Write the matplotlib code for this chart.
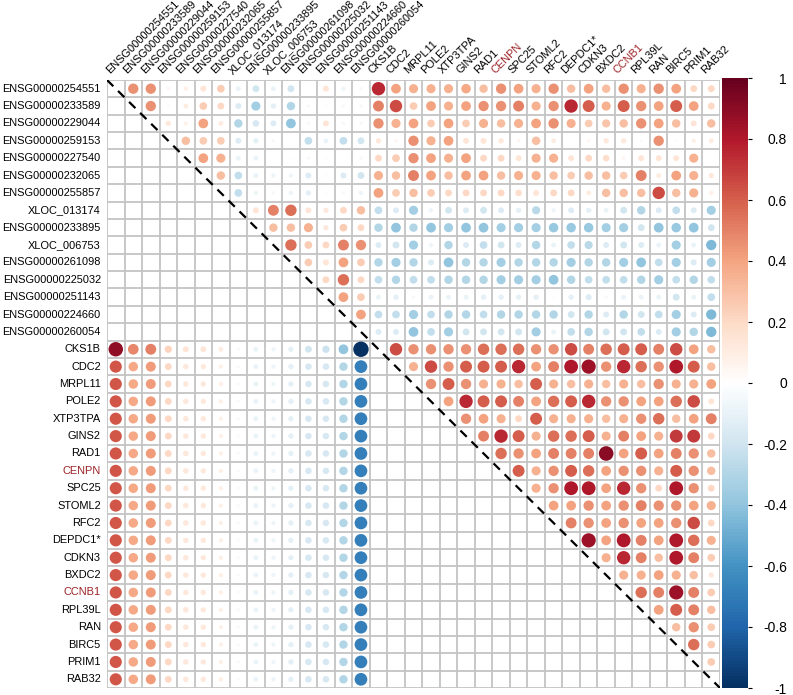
import numpy as np
import matplotlib
matplotlib.use('Agg')
import matplotlib.pyplot as plt
from matplotlib.colors import LinearSegmentedColormap, Normalize
from matplotlib.cm import ScalarMappable

plt.rcParams['font.family'] = ['Liberation Sans', 'DejaVu Sans']

# row / column names
lnc_names = ['ENSG00000254551', 'ENSG00000233589', 'ENSG00000229044', 'ENSG00000259153',
             'ENSG00000227540', 'ENSG00000232065', 'ENSG00000255857', 'XLOC_013174',
             'ENSG00000233895', 'XLOC_006753', 'ENSG00000261098', 'ENSG00000225032',
             'ENSG00000251143', 'ENSG00000224660', 'ENSG00000260054']
gene_names = ['CKS1B', 'CDC2', 'MRPL11', 'POLE2', 'XTP3TPA', 'GINS2', 'RAD1', 'CENPN',
              'SPC25', 'STOML2', 'RFC2', 'DEPDC1*', 'CDKN3', 'BXDC2', 'CCNB1', 'RPL39L',
              'RAN', 'BIRC5', 'PRIM1', 'RAB32']
red_names = ['CENPN', 'CCNB1']
names = lnc_names + gene_names
n = len(names)

# upper triangle: row i holds correlations with columns i+1 .. n-1
upper_rows = [
    [0.45, 0.45, 0.05, 0.08, 0.15, 0.25, -0.1, -0.2, -0.1, -0.2, 0.0, 0.15, -0.08, -0.05,
     0.75, 0.4, 0.35, 0.35, 0.35, 0.38, 0.3, 0.45, 0.4,
     0.35, 0.45, 0.3, 0.4, 0.3, 0.45, 0.35, 0.45, 0.4, 0.2, 0.2],
    [0.45, 0.03, 0.1, 0.25, 0.2, -0.15, -0.35, -0.12, -0.3, -0.05, 0.02, -0.05, -0.05,
     0.5, 0.65, 0.25, 0.4, 0.35, 0.4, 0.45, 0.45, 0.5,
     0.35, 0.45, 0.75, 0.6, 0.35, 0.6, 0.45, 0.4, 0.6, 0.4, 0.2],
    [0.12, 0.07, 0.4, 0.1, -0.3, -0.18, -0.15, -0.4, -0.05, 0.15, -0.05, -0.05,
     0.45, 0.35, 0.4, 0.25, 0.4, 0.25, 0.35, 0.3, 0.35,
     0.4, 0.45, 0.35, 0.25, 0.28, 0.3, 0.45, 0.4, 0.3, 0.15, 0.3],
    [0.3, 0.25, 0.25, -0.15, -0.12, -0.05, 0.0, -0.25, -0.1, -0.25, -0.2,
     0.12, 0.05, 0.45, 0.35, 0.4, 0.15, 0.15, 0.12, 0.05,
     0.3, 0.1, 0.0, 0.05, 0.12, 0.12, 0.03, 0.45, 0.03, 0.08, 0.1],
    [0.4, 0.35, -0.1, -0.1, 0.0, 0.02, -0.05, -0.03, 0.0, -0.05,
     0.2, 0.25, 0.45, 0.4, 0.35, 0.4, 0.2, 0.2, 0.15,
     0.35, 0.35, 0.15, 0.2, 0.18, 0.05, 0.15, 0.15, 0.15, 0.35, 0.0],
    [0.3, -0.25, -0.1, -0.08, -0.08, -0.15, -0.03, -0.15, -0.2,
     0.35, 0.3, 0.5, 0.4, 0.3, 0.4, 0.4, 0.3, 0.35,
     0.35, 0.3, 0.25, 0.3, 0.3, 0.25, 0.5, 0.1, 0.4, 0.35, 0.12],
    [-0.25, -0.08, -0.05, -0.08, -0.12, -0.03, -0.05, -0.08,
     0.4, 0.25, 0.3, 0.25, 0.2, 0.2, 0.2, 0.2, 0.18,
     0.15, 0.2, 0.2, 0.1, 0.3, 0.3, 0.3, 0.65, 0.3, 0.35, 0.08],
    [0.15, 0.5, 0.55, 0.15, 0.12, 0.2, 0.3,
     -0.25, -0.15, -0.35, -0.08, -0.2, -0.15, -0.2, -0.15, -0.12,
     -0.28, -0.08, -0.15, -0.12, -0.1, -0.2, -0.3, -0.15, -0.25, -0.15, -0.35],
    [0.3, 0.3, 0.35, 0.12, 0.25, 0.2,
     -0.3, -0.4, -0.3, -0.4, -0.35, -0.4, -0.4, -0.35, -0.35,
     -0.35, -0.38, -0.38, -0.38, -0.35, -0.35, -0.2, -0.4, -0.38, -0.4, -0.2],
    [0.55, 0.25, 0.2, 0.5, 0.45,
     -0.15, -0.2, -0.35, -0.08, -0.3, -0.15, -0.25, -0.2, -0.15,
     -0.3, -0.1, -0.25, -0.28, -0.15, -0.2, -0.15, -0.1, -0.35, -0.1, -0.45],
    [0.25, 0.15, 0.4, 0.25,
     -0.3, -0.35, -0.3, -0.15, -0.4, -0.3, -0.3, -0.35, -0.3,
     -0.3, -0.3, -0.35, -0.3, -0.3, -0.35, -0.4, -0.25, -0.35, -0.15, -0.35],
    [0.2, 0.55, 0.2,
     -0.25, -0.3, -0.25, -0.25, -0.3, -0.3, -0.3, -0.35, -0.35,
     -0.35, -0.4, -0.3, -0.25, -0.25, -0.25, -0.3, -0.35, -0.25, -0.3, -0.25],
    [0.4, 0.25,
     -0.1, -0.12, -0.05, -0.1, -0.1, -0.1, -0.12, -0.12, -0.12,
     -0.12, -0.03, -0.12, -0.15, -0.05, -0.1, -0.1, -0.1, -0.2, -0.1, -0.25],
    [0.4,
     -0.25, -0.25, -0.35, -0.25, -0.3, -0.3, -0.25, -0.3, -0.3,
     -0.3, -0.3, -0.2, -0.3, -0.15, -0.3, -0.2, -0.25, -0.35, -0.15, -0.45],
    [-0.15, -0.15, -0.4, -0.25, -0.35, -0.2, -0.2, -0.2, -0.2,
     -0.35, -0.1, -0.25, -0.3, -0.2, -0.2, -0.25, -0.15, -0.35, -0.3, -0.45],
    [0.65, 0.45, 0.45, 0.45, 0.45, 0.55, 0.55, 0.55,
     0.45, 0.45, 0.65, 0.5, 0.55, 0.6, 0.6, 0.5, 0.65, 0.4, 0.3],
    [0.35, 0.65, 0.45, 0.6, 0.6, 0.6, 0.75,
     0.4, 0.5, 0.8, 0.85, 0.45, 0.75, 0.55, 0.45, 0.8, 0.6, 0.3],
    [0.45, 0.6, 0.45, 0.35, 0.35, 0.3,
     0.6, 0.35, 0.3, 0.35, 0.3, 0.35, 0.3, 0.45, 0.35, 0.35, 0.4],
    [0.4, 0.75, 0.6, 0.6, 0.5,
     0.4, 0.55, 0.6, 0.75, 0.45, 0.45, 0.4, 0.4, 0.55, 0.65, 0.15],
    [0.45, 0.4, 0.35, 0.2,
     0.6, 0.35, 0.35, 0.35, 0.3, 0.35, 0.45, 0.55, 0.3, 0.4, 0.5],
    [0.5, 0.75, 0.6,
     0.35, 0.55, 0.55, 0.6, 0.35, 0.5, 0.4, 0.35, 0.7, 0.7, 0.2],
    [0.55, 0.45,
     0.4, 0.5, 0.5, 0.5, 0.9, 0.4, 0.6, 0.4, 0.5, 0.45, 0.3],
    [0.6,
     0.35, 0.45, 0.6, 0.55, 0.4, 0.45, 0.45, 0.35, 0.6, 0.45, 0.3],
    [0.35, 0.45, 0.8, 0.8, 0.4, 0.75, 0.45, 0.2, 0.8, 0.45, 0.2],
    [0.4, 0.4, 0.45, 0.4, 0.45, 0.5, 0.45, 0.45, 0.4, 0.35],
    [0.5, 0.45, 0.4, 0.45, 0.4, 0.4, 0.45, 0.65, 0.2],
    [0.85, 0.4, 0.8, 0.5, 0.4, 0.8, 0.55, 0.35],
    [0.35, 0.75, 0.5, 0.3, 0.8, 0.5, 0.25],
    [0.35, 0.35, 0.4, 0.35, 0.3, 0.12],
    [0.55, 0.5, 0.85, 0.5, 0.25],
    [0.4, 0.6, 0.5, 0.3],
    [0.3, 0.45, 0.25],
    [0.55, 0.25],
    [0.25],
    [],
]

# lower-left block (gene rows x lncRNA columns)
lower_cks1b = [0.88, 0.48, 0.5, 0.22, 0.15, 0.14, 0.1, -0.05, -0.1, -0.08, -0.12, -0.2, -0.22, -0.4, -1.0]
lower_other = [0.62, 0.38, 0.42, 0.2, 0.13, 0.12, 0.08, -0.04, -0.1, -0.08, -0.12, -0.18, -0.18, -0.3, -0.68]

# Build the matrix
M = np.full((n, n), np.nan)
for i, row in enumerate(upper_rows):
    M[i, i + 1:] = row
nl = len(lnc_names)
M[nl, :nl] = lower_cks1b
for i in range(nl + 1, n):
    M[i, :nl] = lower_other

cols = ['#053061', '#2166AC', '#4393C3', '#92C5DE', '#D1E5F0', '#FFFFFF',
        '#FDDBC7', '#F4A582', '#D6604D', '#B2182B', '#67001F']
cmap = LinearSegmentedColormap.from_list('corr', cols, N=200)
norm = Normalize(-1, 1)

W, H = 793, 695
fig = plt.figure(figsize=(W / 100, H / 100), dpi=100)
ax = fig.add_axes([107 / W, 7 / H, 613 / W, 608 / H])

# Plot the grid
for k in range(n + 1):
    ax.axhline(k, color='#c4c4c4', lw=1.3, zorder=1)
    ax.axvline(k, color='#c4c4c4', lw=1.3, zorder=1)

cell_pt = 613 / n * 0.72
rr, cc = np.where(~np.isnan(M))
vals = M[rr, cc]
sizes = (2 * 0.44 * cell_pt) ** 2 * np.abs(vals)
ax.scatter(cc + 0.5, rr + 0.5, s=sizes, c=vals, cmap=cmap, norm=norm,
           edgecolors='none', zorder=2)

ax.plot([0, n], [0, n], color='black', ls=(0, (4, 3)), lw=1.6, zorder=3)

ax.set_xlim(0, n)
ax.set_ylim(n, 0)
ax.set_xticks([])
ax.set_yticks([])
for s in ax.spines.values():
    s.set_visible(False)

for k, name in enumerate(names):
    color = '#9b2226' if name in red_names else 'black'
    ax.text(-0.35, k + 0.5, name, ha='right', va='center', fontsize=7.9, color=color)
    ax.text(k + 0.25, -0.25, name, ha='left', va='bottom', rotation=45,
            rotation_mode='anchor', fontsize=7.9, color=color)

# Colorbar
cax = fig.add_axes([722 / W, 7 / H, 26 / W, 610 / H])
cb = fig.colorbar(ScalarMappable(norm=norm, cmap=cmap), cax=cax)
cb.outline.set_visible(False)
cb.set_ticks(np.round(np.arange(-1, 1.01, 0.2), 1))
cb.set_ticklabels(['-1', '-0.8', '-0.6', '-0.4', '-0.2', '0', '0.2', '0.4', '0.6', '0.8', '1'])
cax.tick_params(length=3, width=0.8, pad=25, labelsize=10)
for t in cax.get_yticklabels():
    t.set_horizontalalignment('right')

plt.savefig('out.png', dpi=100)
